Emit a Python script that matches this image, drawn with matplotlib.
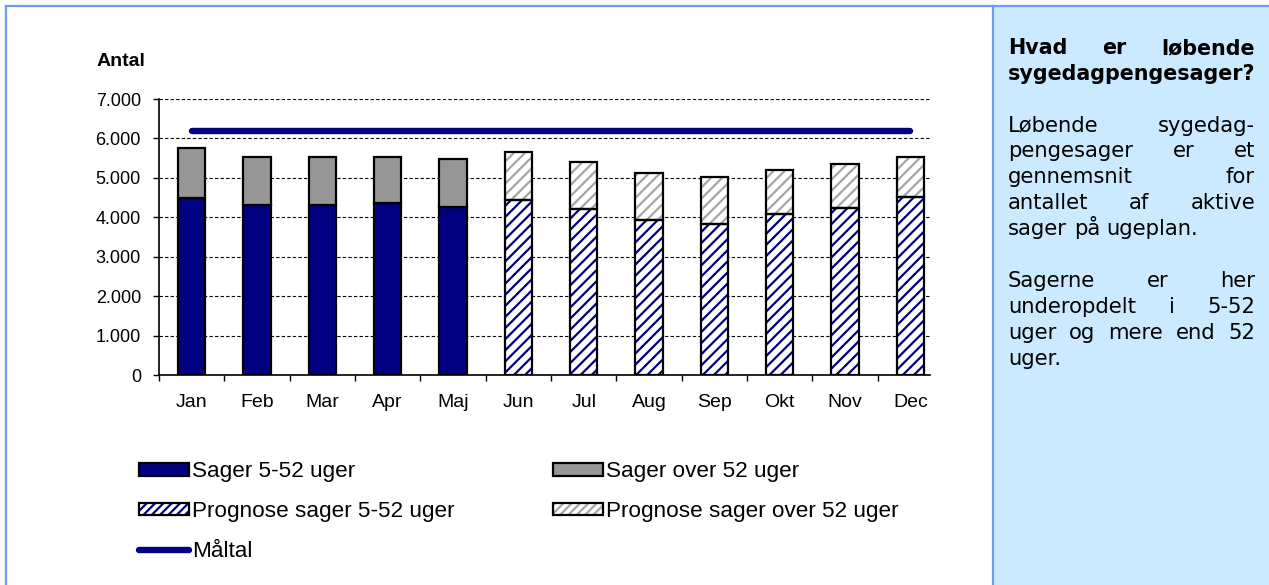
import numpy as np
import matplotlib
matplotlib.use("Agg")
import matplotlib.pyplot as plt
from matplotlib.patches import Patch, Rectangle
from matplotlib.lines import Line2D
from matplotlib.ticker import FuncFormatter

# data
months = ["Jan", "Feb", "Mar", "Apr", "Maj", "Jun", "Jul", "Aug", "Sep", "Okt", "Nov", "Dec"]
sager_5_52 = [4490, 4315, 4315, 4350, 4255]
sager_over_52 = [1270, 1225, 1225, 1190, 1225]
prognose_5_52 = [4450, 4220, 3935, 3825, 4085, 4245, 4510]
prognose_over_52 = [1200, 1180, 1200, 1200, 1110, 1110, 1030]
maaltal = [6200, 6200, 6200, 6200, 6200, 6200, 6200, 6200, 6200, 6200, 6200, 6200]

NAVY = "#000080"
GREY = "#969696"
HATCH_GREY = "#a6a6a6"
W, H = 1269, 585

plt.rcParams["hatch.linewidth"] = 1.6
plt.rcParams["font.family"] = ["Liberation Sans", "DejaVu Sans"]

fig = plt.figure(figsize=(W / 100, H / 100), dpi=100)
fig.patch.set_facecolor("white")

# px helpers
def fx(px):
    return px / W

def fy(py):
    return 1 - py / H

ax = fig.add_axes([fx(159), fy(375), fx(930) - fx(159), fy(99) - fy(375)])

x = np.arange(len(months))
n_act = len(sager_5_52)
xa = x[:n_act]
xp = x[n_act:]
bw = 0.42

ax.bar(xa, sager_5_52, bw, color=NAVY, edgecolor="black", lw=1.6, zorder=3)
ax.bar(xa, sager_over_52, bw, bottom=sager_5_52, color=GREY, edgecolor="black", lw=1.6, zorder=3)

# forecast: hatch layer first, then the black outline on top
ax.bar(xp, prognose_5_52, bw, color="white", edgecolor=NAVY, hatch="///", lw=0, zorder=3)
ax.bar(xp, prognose_5_52, bw, fill=False, edgecolor="black", lw=1.6, zorder=4)
ax.bar(xp, prognose_over_52, bw, bottom=prognose_5_52, color="white", edgecolor=HATCH_GREY,
       hatch="///", lw=0, zorder=3)
ax.bar(xp, prognose_over_52, bw, bottom=prognose_5_52, fill=False, edgecolor="black", lw=1.6, zorder=4)

ax.plot(x, maaltal, color=NAVY, lw=4.6, solid_capstyle="round", zorder=5)

ax.set_ylim(0, 7000)
ax.set_xlim(-0.5, 11.3)
ax.set_yticks(np.arange(0, 7001, 1000))
ax.yaxis.set_major_formatter(FuncFormatter(lambda v, p: f"{int(v):,}".replace(",", ".")))
ax.yaxis.grid(True, ls=(0, (3, 2)), color="black", lw=0.8, zorder=0)
ax.set_axisbelow(True)

ax.set_xticks(np.arange(-0.5, 11.0, 1.0))
ax.set_xticklabels([])
ax.set_xticks(x, minor=True)
ax.set_xticklabels(months, minor=True)
ax.tick_params(axis="x", which="major", length=4, width=1, direction="out")
ax.tick_params(axis="x", which="minor", length=0, pad=14, labelsize=14)
ax.tick_params(axis="y", length=4, width=1, direction="out", pad=9, labelsize=13)

for s in ["top", "right"]:
    ax.spines[s].set_visible(False)
for s in ["left", "bottom"]:
    ax.spines[s].set_linewidth(1.2)

fig.text(fx(97), fy(62), "Antal", fontsize=14, fontweight="bold", ha="left", va="center")

# legend in two columns
h1 = Patch(fc=NAVY, ec="black", lw=1.6)
h2 = (Patch(fc="white", ec=NAVY, hatch="////", lw=0), Patch(fill=False, ec="black", lw=1.6))
h3 = Line2D([], [], color=NAVY, lw=4.6, solid_capstyle="round")
h4 = Patch(fc=GREY, ec="black", lw=1.6)
h5 = (Patch(fc="white", ec=HATCH_GREY, hatch="////", lw=0), Patch(fill=False, ec="black", lw=1.6))

leg_kw = dict(frameon=False, fontsize=16.2, handlelength=2.2, handleheight=0.45, handletextpad=0.15,
              labelspacing=0.83, loc="upper left", borderaxespad=0, borderpad=0)
fig.legend([h1, h2, h3], ["Sager 5-52 uger", "Prognose sager 5-52 uger", "Måltal"],
           bbox_to_anchor=(fx(139), fy(461.5)), **leg_kw)
fig.legend([h4, h5], ["Sager over 52 uger", "Prognose sager over 52 uger"],
           bbox_to_anchor=(fx(553), fy(461.5)), **leg_kw)

# frame lines and info panel
fig.add_artist(Rectangle((fx(993), 0), 1 - fx(993), fy(6), transform=fig.transFigure,
                         fc="#cceaff", ec="none", zorder=0))
fig.add_artist(Line2D([fx(6), 1], [fy(6), fy(6)], transform=fig.transFigure, color="#6d9cf6", lw=1.6))
fig.add_artist(Line2D([fx(6), fx(6)], [0, fy(6)], transform=fig.transFigure, color="#6d9cf6", lw=1.6))
fig.add_artist(Line2D([fx(993), fx(993)], [0, fy(6)], transform=fig.transFigure, color="#6d9cf6", lw=1.6))

renderer = fig.canvas.get_renderer()
TX0, TX1 = 1008, 1255
PANEL_FS = 15.2


def put_line(words, base_y, justify, fs=PANEL_FS, **kw):
    arts = [fig.text(0, fy(base_y), w, ha="left", va="baseline", family="DejaVu Sans",
                     fontsize=fs, **kw) for w in words]
    widths = [a.get_window_extent(renderer).width for a in arts]
    if justify and len(words) > 1:
        gap = (TX1 - TX0 - sum(widths)) / (len(words) - 1)
    else:
        gap = 0.318 * fs * 100 / 72
    pos = TX0
    for a, w in zip(arts, widths):
        a.set_x(fx(pos))
        pos += w + gap


title_lines = [["Hvad", "er", "løbende"], ["sygedagpengesager?"]]
para1 = [["Løbende", "sygedag-"], ["pengesager", "er", "et"], ["gennemsnit", "for"],
         ["antallet", "af", "aktive"], ["sager", "på", "ugeplan."]]
para2 = [["Sagerne", "er", "her"], ["underopdelt", "i", "5-52"], ["uger", "og", "mere", "end", "52"],
         ["uger."]]

step = 25.9
y0 = 54
for i, ln in enumerate(title_lines):
    put_line(ln, y0 + i * step, i < len(title_lines) - 1, fs=14.9, fontweight="bold")
y0 = 131.5
for i, ln in enumerate(para1):
    put_line(ln, y0 + i * step, i < len(para1) - 1)
y0 = 287
for i, ln in enumerate(para2):
    put_line(ln, y0 + i * step, i < len(para2) - 1)

fig.savefig("out.png", dpi=100)
